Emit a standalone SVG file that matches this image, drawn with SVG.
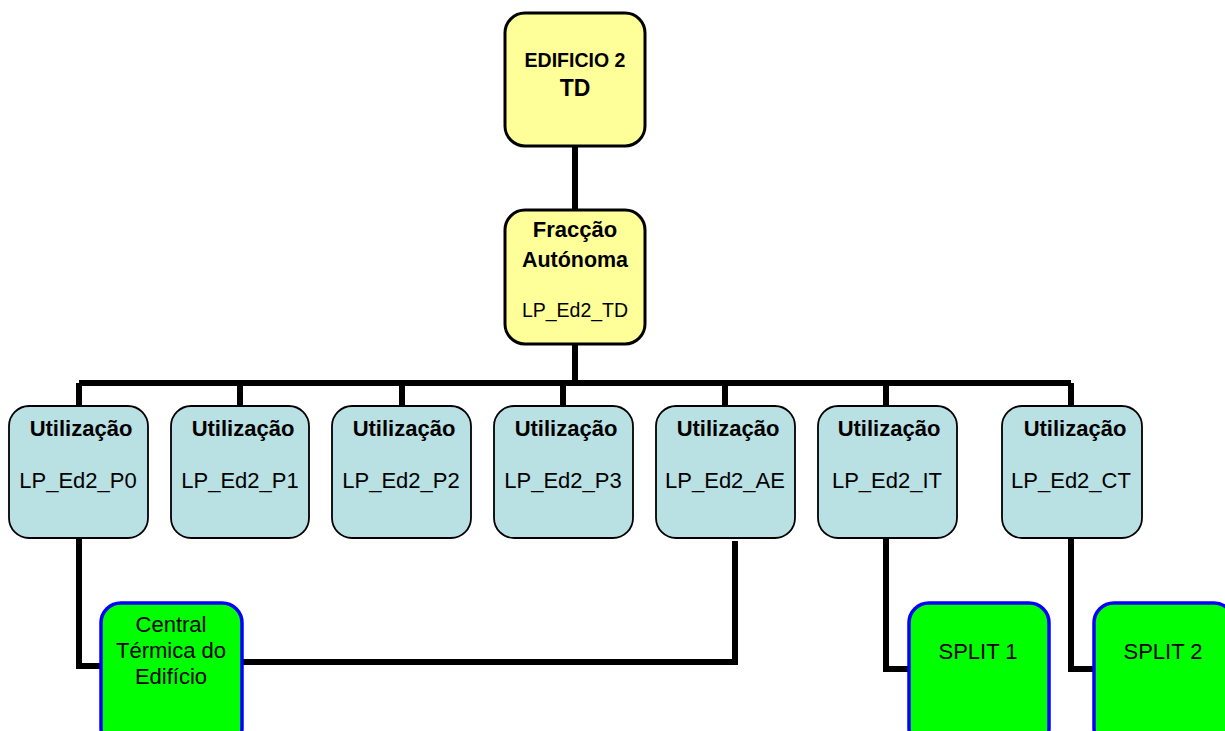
<svg xmlns="http://www.w3.org/2000/svg" width="1225" height="731" viewBox="0 0 1225 731">
<style>
.y{fill:#ffff99;stroke:#000;stroke-width:3}
.b{fill:#b9e0e3;stroke:#000;stroke-width:1.8}
.g{fill:#00ff00;stroke:#0000ff;stroke-width:3.5}
.c{fill:none;stroke:#000;stroke-width:6}
text{font-family:"Liberation Sans",Arial,sans-serif;fill:#000;text-anchor:middle}
.h{font-weight:bold;font-size:22px}
.n{font-size:22px}
</style>
<rect width="1225" height="731" fill="#fff"/>
<g id="connectors">
<path class="c" d="M575 147V210M575 345V383M79 383H1071M79 383V406M240 383V406M402 383V406M563 383V406M725 383V406M886 383V406M1071 383V406"/>
<path class="c" d="M79 538V666H101M242 662H735V541M886 538V669H909M1071 538V669H1093"/>
</g>
<g id="edificio">
<rect class="y" x="505" y="13" width="140" height="133" rx="20"/>
<text class="h" x="575" y="67" style="font-size:19.5px">EDIFICIO 2</text>
<text class="h" x="575" y="96" style="font-size:23px">TD</text>
</g>
<g id="fraccao">
<rect class="y" x="505" y="210" width="140" height="134" rx="20"/>
<text class="h" x="575" y="237">Fracção</text>
<text class="h" x="575" y="267" textLength="106" lengthAdjust="spacingAndGlyphs">Autónoma</text>
<text class="n" x="575" y="317" style="font-size:19.5px">LP_Ed2_TD</text>
</g>
<g id="p0">
<rect class="b" x="9" y="406" width="139" height="132" rx="20"/>
<text class="h" x="81" y="436">Utilização</text>
<text class="n" x="78" y="488">LP_Ed2_P0</text>
</g>
<g id="p1">
<rect class="b" x="171" y="406" width="138" height="132" rx="20"/>
<text class="h" x="243" y="436">Utilização</text>
<text class="n" x="240" y="488">LP_Ed2_P1</text>
</g>
<g id="p2">
<rect class="b" x="332" y="406" width="139" height="132" rx="20"/>
<text class="h" x="404" y="436">Utilização</text>
<text class="n" x="401" y="488">LP_Ed2_P2</text>
</g>
<g id="p3">
<rect class="b" x="494" y="406" width="139" height="132" rx="20"/>
<text class="h" x="566" y="436">Utilização</text>
<text class="n" x="563" y="488">LP_Ed2_P3</text>
</g>
<g id="ae">
<rect class="b" x="656" y="406" width="139" height="132" rx="20"/>
<text class="h" x="728" y="436">Utilização</text>
<text class="n" x="725" y="488">LP_Ed2_AE</text>
</g>
<g id="it">
<rect class="b" x="818" y="406" width="139" height="132" rx="20"/>
<text class="h" x="889" y="436">Utilização</text>
<text class="n" x="887" y="488">LP_Ed2_IT</text>
</g>
<g id="ct">
<rect class="b" x="1002" y="406" width="140" height="132" rx="20"/>
<text class="h" x="1075" y="436">Utilização</text>
<text class="n" x="1071" y="488">LP_Ed2_CT</text>
</g>
<g id="central">
<rect class="g" x="101" y="603" width="141" height="145" rx="20"/>
<text class="n" x="171" y="632">Central</text>
<text class="n" x="171" y="658">Térmica do</text>
<text class="n" x="171" y="684">Edifício</text>
</g>
<g id="split1">
<rect class="g" x="909" y="603" width="140" height="145" rx="20"/>
<text class="n" x="978" y="659">SPLIT 1</text>
</g>
<g id="split2">
<rect class="g" x="1094" y="603" width="140" height="145" rx="20"/>
<text class="n" x="1163" y="659">SPLIT 2</text>
</g>
</svg>
